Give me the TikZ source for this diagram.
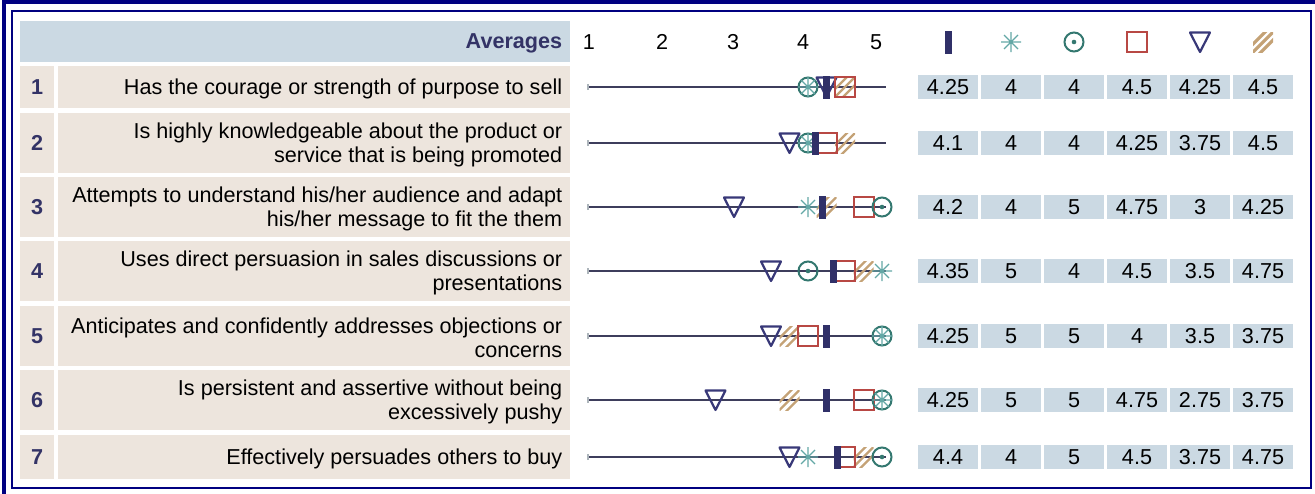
\documentclass[tikz,border=0pt]{standalone}
\usepackage{fontspec}
\setmainfont{Liberation Sans}
\usetikzlibrary{positioning}
\definecolor{framenavy}{RGB}{0,0,128}
\definecolor{navytxt}{RGB}{51,51,102}
\definecolor{hdblue}{RGB}{203,217,227}
\definecolor{rowbeige}{RGB}{237,229,221}
\definecolor{axisgray}{RGB}{62,62,92}
\definecolor{barcol}{RGB}{48,48,104}
\definecolor{starcol}{RGB}{100,168,166}
\definecolor{dotcol}{RGB}{52,120,112}
\definecolor{sqcol}{RGB}{184,72,68}
\definecolor{tricol}{RGB}{56,56,120}
\definecolor{hatchcol}{RGB}{196,162,118}

\begin{document}
\begin{tikzpicture}[x=1pt,y=-1pt,
    every node/.style={inner sep=0pt,font=\fontsize{21.6}{24}\selectfont},
    frameline/.style={draw=framenavy},
    hdcell/.style={fill=hdblue,anchor=north west},
    numcell/.style={fill=rowbeige,anchor=north west,minimum width=34,text=navytxt,
      font=\fontsize{21.6}{24}\selectfont\bfseries},
    txtcell/.style={fill=rowbeige,anchor=north west,minimum width=512},
    txtlabel/.style={align=right,yshift=-1.5},
    valcell/.style={fill=hdblue,minimum width=60,minimum height=24},
    axis/.style={axisgray,line width=2},
    axistick/.style={draw=hdblue!60!gray,line width=1.5},
    barmk/.style={fill=barcol,minimum width=7,minimum height=23},
    sqmk/.style={draw=sqcol,line width=2,minimum size=20},
    dotmk/.style={circle,draw=dotcol,line width=2,minimum size=19,
      path picture={\fill[dotcol] (path picture bounding box.center) circle (2.3pt);}},
    starmk/.style={minimum size=21,path picture={
      \coordinate (pc) at (path picture bounding box.center);
      \draw[starcol,line width=1.3] ([xshift=-10]pc) -- ([xshift=10]pc)
        ([yshift=-10]pc) -- ([yshift=10]pc)
        ([shift={(-7,-7)}]pc) -- ([shift={(7,7)}]pc)
        ([shift={(-7,7)}]pc) -- ([shift={(7,-7)}]pc);}},
    trimk/.style={minimum size=23,path picture={
      \coordinate (pc) at (path picture bounding box.center);
      \draw[tricol,line width=2.2,line join=round] ([shift={(-10,-9.5)}]pc) -- ++(20,0) -- ++(-10,19.5) -- cycle;}},
    hatchmk/.style={minimum size=20,path picture={
      \coordinate (pc) at (path picture bounding box.center);
      \foreach \d in {-8,0,8}
        \draw[hatchcol,line width=#1] ([shift={({\d-12},12)}]pc) -- ++(24,-24);}},
    hatchmk/.default=3.2
  ]
  \useasboundingbox (0,0) rectangle (1315,493);
  \clip (0,0) rectangle (1315,493);

  % double frame
  \draw[frameline,line width=4] (4.3,520) -- (4.3,2.2) -- (1340,2.2);
  \draw[frameline,line width=2] (12,10.5) rectangle (1310.5,488.3);

  % header
  \node[hdcell,minimum width=550,minimum height=41] (head) at (20,21) {};
  \node[left=8 of head.east,yshift=-1.5,text=navytxt,font=\fontsize{21.6}{24}\selectfont\bfseries] (avg) {Averages};
  \foreach \n/\xx in {1/589,2/662,3/733,4/803,5/876}
    \node (sc\n) at (\xx,42) {\n};
  \node[barmk] (hbar) at (948,42) {};
  \node[starmk] (hstar) at (1011,42) {};
  \node[dotmk] (hdot) at (1074,42) {};
  \node[sqmk] (hsq) at (1137,42) {};
  \node[trimk] (htri) at (1200,42) {};
  \node[hatchmk] (hhatch) at (1263,42) {};

  % statements
  \foreach \i/\top/\h/\txt in {
      1/66/42/{Has the courage or strength of purpose to sell},
      2/113/60/{Is highly knowledgeable about the product or\\service that is being promoted},
      3/177/60/{Attempts to understand his/her audience and adapt\\his/her message to fit the them},
      4/241/60/{Uses direct persuasion in sales discussions or\\presentations},
      5/306/60/{Anticipates and confidently addresses objections or\\concerns},
      6/370/60/{Is persistent and assertive without being\\excessively pushy},
      7/435/44/{Effectively persuades others to buy}}{
    \node[numcell,minimum height=\h] (num\i) at (20,\top) {\i};
    \node[txtcell,minimum height=\h] (cell\i) at (58,\top) {};
    \node[txtlabel,left=8 of cell\i.east] (lbl\i) {\txt};
  }

  % scores: bar, star, dot, square, triangle, hatch
  \foreach \i/\ym/\vb/\vs/\vc/\vq/\vt/\vh in {
      1/87/4.25/4/4/4.5/4.25/4.5,
      2/143/4.1/4/4/4.25/3.75/4.5,
      3/207/4.2/4/5/4.75/3/4.25,
      4/271/4.35/5/4/4.5/3.5/4.75,
      5/336/4.25/5/5/4/3.5/3.75,
      6/400/4.25/5/5/4.75/2.75/3.75,
      7/457/4.4/4/5/4.5/3.75/4.75}{
    \coordinate (a\i) at (588,\ym);
    \coordinate (b\i) at (886,\ym);
    \draw[axis] (a\i) -- (b\i);
    \draw[axistick] ([yshift=-3]a\i) -- ([yshift=3]a\i);
    \node[hatchmk=2.2] (h\i) at ({512+74*\vh},\ym) {};
    \node[trimk] (t\i) at ({512+74*\vt},\ym) {};
    \node[sqmk] (q\i) at ({512+74*\vq},\ym) {};
    \node[dotmk] (c\i) at ({512+74*\vc},\ym) {};
    \node[starmk] (s\i) at ({512+74*\vs},\ym) {};
    \node[barmk] (m\i) at ({512+74*\vb},\ym) {};
    \foreach \v [count=\k from 0] in {\vb,\vs,\vc,\vq,\vt,\vh}
      \node[valcell] (v\i-\k) at ({948+63*\k},\ym) {\v};
  }
\end{tikzpicture}
\end{document}
